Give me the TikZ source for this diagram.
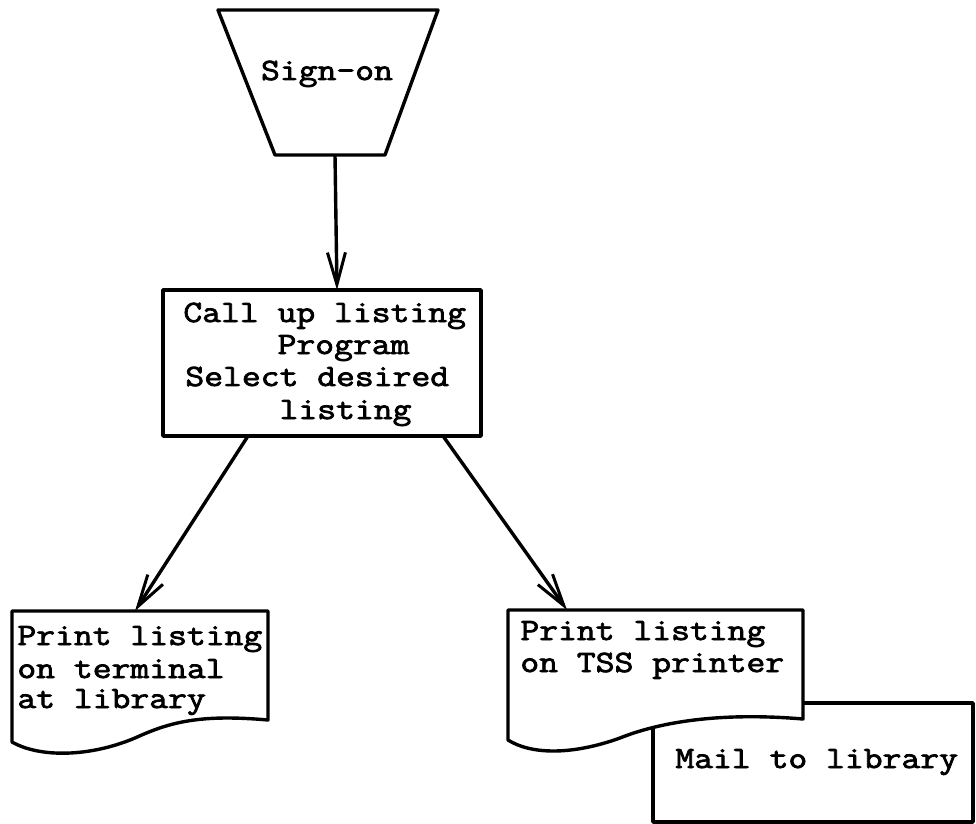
\documentclass[tikz,border=0pt]{standalone}
\usepackage{fontspec}
\usetikzlibrary{arrows.meta}
\newfontfamily\typewriter{Latin Modern Mono}[FakeBold=2.5, FakeStretch=1.18]
\tikzset{
  shapeline/.style={line width=1.7pt, line join=round, draw=black},
  flow/.style={line width=1.7pt, -{Straight Barb[length=16pt,width=9pt,line width=1.5pt]}},
  txt/.style={font=\typewriter\fontsize{15.5}{16}\selectfont, inner sep=0pt, anchor=base west},
}
\begin{document}
\begin{tikzpicture}[x=0.5pt, y=-0.5pt]
\useasboundingbox (0,0) rectangle (976,824);

% manual operation: sign-on
\draw[shapeline] (218,10) -- (438,10) -- (385,155) -- (275,155) -- cycle;
\node[txt, anchor=base] (signon) at (327,80) {Sign-on};
\coordinate (signon-s) at (335,155);

% process box
\draw[shapeline] (163,290) rectangle (481,436);
\node[txt] (p1) at (183,322) {Call up listing};
\node[txt] (p2) at (183,354) {\phantom{Call }Program};
\node[txt] (p3) at (185,386) {Select desired};
\node[txt] (p4) at (185,419) {\phantom{Selec}listing};
\coordinate (proc-n)  at (337,290);
\coordinate (proc-sw) at (248,436);
\coordinate (proc-se) at (443,436);

% document: terminal printout
\draw[shapeline, fill=white] (12,611) -- (268,611) -- (268,720)
  .. controls (200,714) and (170,722) .. (135,738)
  .. controls (90,757) and (40,758) .. (12,742) -- cycle;
\node[txt] (t1) at (17,645) {Print listing};
\node[txt] (t2) at (17,678) {on terminal};
\node[txt] (t3) at (17,708) {at library};
\coordinate (term-n) at (135,611);

% mailing box behind the TSS printout
\draw[shapeline] (653,703) rectangle (973,822);
\node[txt] (mail) at (675,768) {Mail to library};

% document: TSS printer output
\draw[shapeline, fill=white] (508,610) -- (803,610) -- (803,719)
  .. controls (720,712) and (660,722) .. (620,738)
  .. controls (570,756) and (530,754) .. (508,740) -- cycle;
\node[txt] (s1) at (520,640) {Print listing};
\node[txt] (s2) at (520,672) {on TSS printer};
\coordinate (tss-n) at (567,610);

% connectors
\draw[flow] (signon-s) -- (proc-n);
\draw[flow] (proc-sw) -- (term-n);
\draw[flow] (proc-se) -- (tss-n);
\end{tikzpicture}
\end{document}
